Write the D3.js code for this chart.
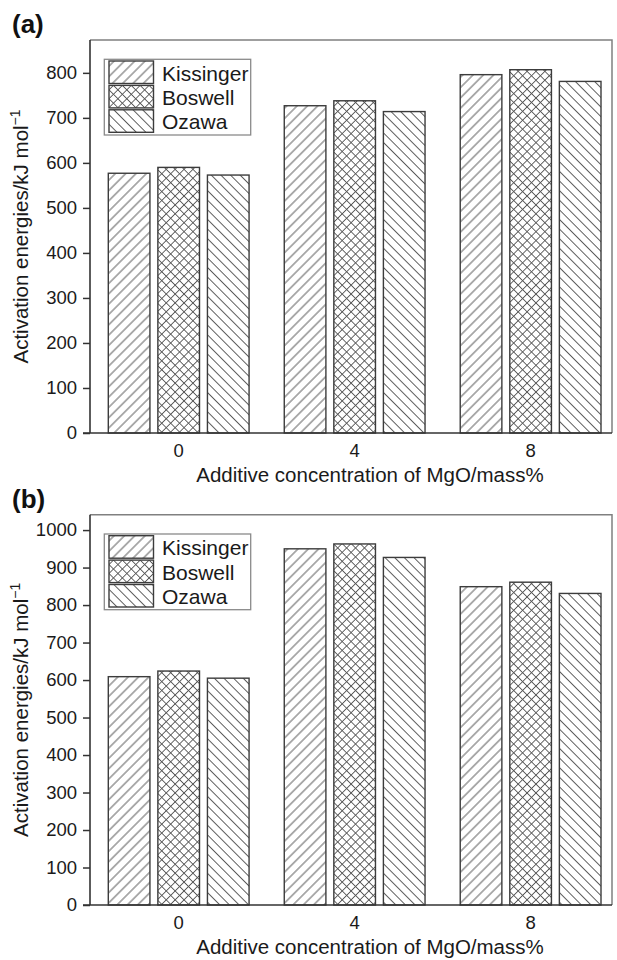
<!DOCTYPE html>
<html>
<head>
<meta charset="utf-8">
<script src="https://cdn.jsdelivr.net/npm/d3@7"></script>
<style>
  html, body { margin: 0; padding: 0; background: #fff; }
  svg { display: block; font-family: "Liberation Sans", Arial, Helvetica, sans-serif; }
</style>
</head>
<body>
<svg id="chart" width="617" height="960"></svg>
<script>
// MgO content groups and the three kinetic methods
const categories = ["0", "4", "8"];
const methods = ["Kissinger", "Boswell", "Ozawa"];

// Panel (a): activation energies, kJ/mol
const kissingerA = [577, 727, 796];
const boswellA   = [590, 738, 807];
const ozawaA     = [573, 714, 781];
const ticksA     = [0, 100, 200, 300, 400, 500, 600, 700, 800];

// Panel (b): activation energies, kJ/mol
const kissingerB = [609, 950, 849];
const boswellB   = [624, 963, 861];
const ozawaB     = [605, 927, 831];
const ticksB     = [0, 100, 200, 300, 400, 500, 600, 700, 800, 900, 1000];

const svg = d3.select("#chart");
const defs = svg.append("defs");

// Hatch fills: "/" for Kissinger, cross for Boswell, "\" for Ozawa
function hatch(id, gap, angle, cross) {
  const p = defs.append("pattern")
    .attr("id", id)
    .attr("patternUnits", "userSpaceOnUse")
    .attr("width", gap).attr("height", gap)
    .attr("patternTransform", `rotate(${angle})`);
  p.append("rect").attr("width", gap).attr("height", gap).attr("fill", "#fff");
  p.append("line").attr("x1", gap / 2).attr("y1", 0).attr("x2", gap / 2).attr("y2", gap)
    .attr("stroke", "#585858").attr("stroke-width", 0.95);
  if (cross) {
    p.append("line").attr("x1", 0).attr("y1", gap / 2).attr("x2", gap).attr("y2", gap / 2)
      .attr("stroke", "#585858").attr("stroke-width", 0.95);
  }
}
hatch("hatch-k", 7.3, 45, false);
hatch("hatch-b", 6.3, 45, true);
hatch("hatch-o", 6.8, -45, false);
const fills = { Kissinger: "url(#hatch-k)", Boswell: "url(#hatch-b)", Ozawa: "url(#hatch-o)" };

const frameLeft = 90, frameRight = 612;

function drawPanel(opt) {
  const g = svg.append("g");
  const series = { Kissinger: opt.k, Boswell: opt.b, Ozawa: opt.o };
  const rows = categories.map((c, i) => ({ cat: c, vals: methods.map(m => ({ m, v: series[m][i] })) }));

  const x = d3.scaleBand().domain(categories).range([108.3, 601]).paddingInner(0.2).paddingOuter(0);
  const xm = d3.scaleBand().domain(methods).range([0, x.bandwidth()]).paddingInner(0.16).paddingOuter(0);
  const y = d3.scaleLinear().domain([0, opt.yMax]).range([opt.zero, opt.top]);

  // top and right frame
  g.append("path")
    .attr("d", `M${frameLeft},${opt.top}H${frameRight}V${opt.zero}`)
    .attr("fill", "none").attr("stroke", "#808080").attr("stroke-width", 1.5);

  // bars
  g.selectAll("g.grp").data(rows).join("g").attr("class", "grp")
    .attr("transform", d => `translate(${x(d.cat)},0)`)
    .selectAll("rect").data(d => d.vals).join("rect")
    .attr("x", d => xm(d.m))
    .attr("y", d => y(d.v))
    .attr("width", xm.bandwidth())
    .attr("height", d => y(0) - y(d.v))
    .attr("fill", d => fills[d.m])
    .attr("stroke", "#3c3c3c").attr("stroke-width", 1.4);

  // y axis
  const ya = g.append("g").attr("transform", `translate(${frameLeft},0)`)
    .call(d3.axisLeft(y).tickValues(opt.ticks).tickFormat(d3.format("d"))
      .tickSize(7).tickPadding(6).tickSizeOuter(0));
  ya.select(".domain").remove();
  ya.selectAll(".tick line").attr("stroke", "#333").attr("stroke-width", 1.5);
  ya.selectAll(".tick text").attr("font-size", 18.5).attr("fill", "#1a1a1a")
    .attr("font-family", "'Liberation Sans', Arial, sans-serif");
  g.append("line").attr("x1", frameLeft).attr("x2", frameLeft)
    .attr("y1", opt.top).attr("y2", opt.zero)
    .attr("stroke", "#333").attr("stroke-width", 1.6);

  // x axis: baseline extends left of the y axis
  g.append("line").attr("x1", 83).attr("x2", frameRight)
    .attr("y1", opt.zero).attr("y2", opt.zero)
    .attr("stroke", "#333").attr("stroke-width", 1.6);
  g.selectAll("text.xt").data(categories).join("text").attr("class", "xt")
    .attr("x", d => x(d) + x.bandwidth() / 2)
    .attr("y", opt.zero + 24)
    .attr("text-anchor", "middle").attr("font-size", 18.5).attr("fill", "#1a1a1a")
    .text(d => d);

  g.append("text").attr("x", 370).attr("y", opt.zero + 49)
    .attr("text-anchor", "middle").attr("font-size", 20.5).attr("fill", "#1a1a1a")
    .text("Additive concentration of MgO/mass%");

  // y axis title
  const yt = g.append("text")
    .attr("transform", `translate(28,${(opt.top + opt.zero) / 2}) rotate(-90)`)
    .attr("text-anchor", "middle").attr("font-size", 20.5).attr("fill", "#1a1a1a");
  yt.append("tspan").text("Activation energies/kJ mol");
  yt.append("tspan").attr("dy", -8).attr("font-size", 14).text("\u22121");

  // panel letter
  g.append("text").attr("x", 12).attr("y", opt.top - 7)
    .attr("font-size", 26).attr("font-weight", "bold").attr("fill", "#111")
    .text(opt.letter);

  // legend
  const lg = g.append("g").attr("transform", `translate(104.3,${opt.top + 19.3})`);
  lg.append("rect").attr("width", 146.4).attr("height", 75.7)
    .attr("fill", "#fff").attr("stroke", "#8a8a8a").attr("stroke-width", 1.3);
  const item = lg.selectAll("g.item").data(methods).join("g").attr("class", "item")
    .attr("transform", (d, i) => `translate(4.7,${1.7 + i * 24.4})`);
  item.append("rect").attr("width", 44.5).attr("height", 22.5)
    .attr("fill", d => fills[d]).attr("stroke", "#3c3c3c").attr("stroke-width", 1.4);
  item.append("text").attr("x", 53).attr("y", 19.5)
    .attr("font-size", 21).attr("fill", "#1a1a1a").text(d => d);
}

drawPanel({ letter: "(a)", k: kissingerA, b: boswellA, o: ozawaA, ticks: ticksA,
            yMax: 873, top: 40, zero: 433 });
drawPanel({ letter: "(b)", k: kissingerB, b: boswellB, o: ozawaB, ticks: ticksB,
            yMax: 1041, top: 514.7, zero: 905 });
</script>
</body>
</html>
